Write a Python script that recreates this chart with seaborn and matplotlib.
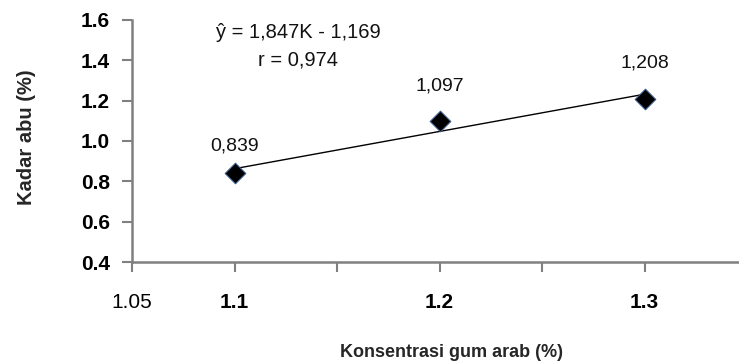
import matplotlib
matplotlib.use("Agg")
import matplotlib.pyplot as plt
from matplotlib import font_manager
import seaborn as sns
import numpy as np
import pandas as pd

# Data
konsentrasi = [1.1, 1.2, 1.3]
kadar_abu = [0.839, 1.097, 1.208]
point_labels = ["0,839", "1,097", "1,208"]
slope = 1.847
intercept = -1.169
equation_text = "ŷ = 1,847K - 1,169"
r_text = "r = 0,974"
x_ticks = [1.05, 1.10, 1.15, 1.20, 1.25, 1.30]
x_tick_labels = ["1.05", "1.1", "", "1.2", "", "1.3"]
y_ticks = [0.4, 0.6, 0.8, 1.0, 1.2, 1.4, 1.6]
y_tick_labels = ["0.4", "0.6", "0.8", "1.0", "1.2", "1.4", "1.6"]

# label offsets above points (points)
label_offsets = [20, 25.5, 26]

sns.set_theme(style="white")
names = {f.name for f in font_manager.fontManager.ttflist}
fam = "Liberation Sans Narrow" if "Liberation Sans Narrow" in names else "Liberation Sans"
plt.rcParams['font.family'] = [fam, 'DejaVu Sans']

fig = plt.figure(figsize=(7.39, 3.62), dpi=100)
ax = fig.add_axes([0.1786, 0.2762, 0.8214, 0.6686])

df = pd.DataFrame({"x": konsentrasi, "y": kadar_abu})
trend = pd.DataFrame({"x": [konsentrasi[0], konsentrasi[-1]]})
trend["y"] = slope * trend["x"] + intercept

sns.lineplot(data=trend, x="x", y="y", ax=ax, color="black", linewidth=1.0)
sns.scatterplot(data=df, x="x", y="y", ax=ax, marker="D", s=110,
                color="black", edgecolor="#3a5a8a", linewidth=0.8, zorder=5)

for xv, yv, lab, off in zip(konsentrasi, kadar_abu, point_labels, label_offsets):
    ax.annotate(lab, (xv, yv), xytext=(0, off), textcoords="offset points",
                ha="center", va="center", fontsize=14, color="#111111")

ax.text(1.131, 1.54, equation_text, ha="center", va="center", fontsize=14.5, color="#111111")
ax.text(1.131, 1.402, r_text, ha="center", va="center", fontsize=14.5, color="#111111")

ax.set_xlim(1.05, 1.346)
ax.set_ylim(0.4, 1.6)
ax.set_xticks(x_ticks)
ax.set_xticklabels(x_tick_labels)
ax.set_yticks(y_ticks)
ax.set_yticklabels(y_tick_labels)
for t in ax.get_xticklabels():
    t.set_fontweight("normal" if t.get_text() == "1.05" else "bold")
for t in ax.get_yticklabels():
    t.set_fontweight("bold")
ax.tick_params(axis="both", labelsize=15, colors="#808080", labelcolor="black",
               direction="out", length=7, width=1.5)
ax.tick_params(axis="x", pad=15)
ax.tick_params(axis="y", pad=9)
ax.tick_params(axis="both", which="both", bottom=True, left=True)

for s in ["top", "right"]:
    ax.spines[s].set_visible(False)
for s in ["left", "bottom"]:
    ax.spines[s].set_color("#808080")
    ax.spines[s].set_linewidth(1.8)

ax.set_xlabel("Konsentrasi gum arab (%)", fontsize=13, fontweight="bold", va="center")
ax.set_ylabel("Kadar abu (%)", fontsize=14.5, fontweight="bold", va="center")
ax.xaxis.set_label_coords(0.527, -0.372)
ax.yaxis.set_label_coords(-0.173, 0.517)
ax.grid(False)

fig.savefig("out.png", dpi=100)
